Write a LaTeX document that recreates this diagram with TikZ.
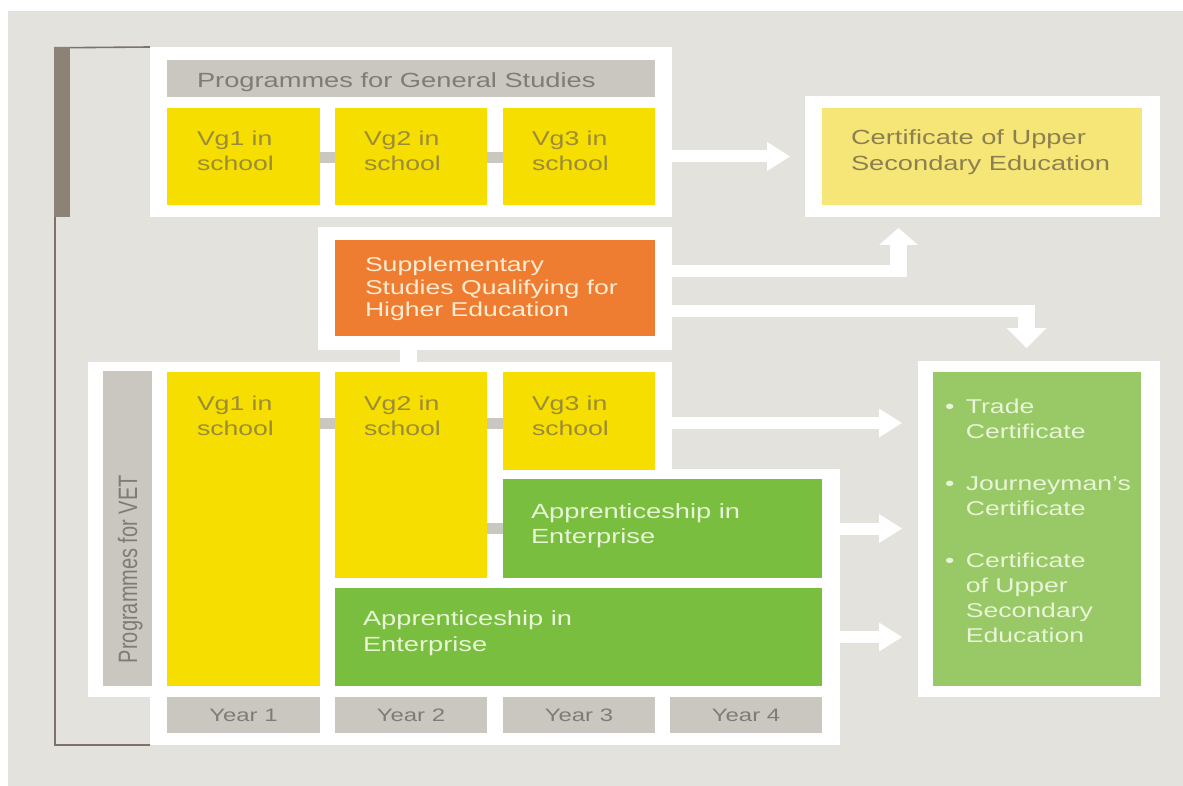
\documentclass[tikz,border=0pt]{standalone}
\usepackage{fontspec}
\setmainfont{Liberation Sans}[FakeStretch=1.33]
\newfontfamily\plainsans{Liberation Sans}
\usetikzlibrary{calc}
\definecolor{bg}{RGB}{228,226,221}
\definecolor{hdrgray}{RGB}{202,199,193}
\definecolor{hdrtext}{RGB}{128,123,118}
\definecolor{ylw}{RGB}{246,222,0}
\definecolor{ytext}{RGB}{155,140,55}
\definecolor{lylw}{RGB}{246,230,120}
\definecolor{ctext}{RGB}{140,128,80}
\definecolor{orng}{RGB}{238,125,50}
\definecolor{otext}{RGB}{253,235,210}
\definecolor{grn}{RGB}{122,190,64}
\definecolor{gtext}{RGB}{232,245,215}
\definecolor{grnb}{RGB}{152,201,102}
\definecolor{darkbar}{RGB}{141,130,120}
\definecolor{thinln}{RGB}{125,115,108}
\tikzset{
  blk/.style={rectangle, inner sep=0pt, outer sep=0pt, anchor=north west, draw=none},
  frm/.style={blk, fill=white},
  lbl/.style={anchor=base west, inner sep=0pt, outer sep=0pt},
  ftw/.style={font=\fontsize{20}{25}\selectfont},
  conn/.style={draw=hdrgray, line width=11pt},
  yearbox/.style={blk, fill=hdrgray, text=hdrtext, font=\fontsize{18}{22}\selectfont, minimum height=36pt},
}
\newcommand\toplines[1]{\begin{tabular}[t]{@{}l@{}}#1\end{tabular}}
\newcommand\hrarrow[2]{%
  \draw[white, line width=12pt] (#1) -- ($(#2)+(-23,0)$);
  \fill[white] (#2) -- ($(#2)+(-23,-14.5)$) -- ($(#2)+(-23,14.5)$) -- cycle;}
\begin{document}
\begin{tikzpicture}[x=1pt,y=-1pt]
\useasboundingbox (0,0) rectangle (1183,786);
\fill[white] (0,0) rectangle (1183,786);
\fill[bg] (8,11) rectangle (1183,786);

% white frames
\node[frm, minimum width=522pt, minimum height=170pt] (genframe) at (150,47) {};
\node[frm, minimum width=355pt, minimum height=121pt] (certframe) at (805,96) {};
\node[frm, minimum width=354pt, minimum height=123pt] (suppframe) at (318,227) {};
\node[frm, minimum width=584pt, minimum height=335pt] (vetframe) at (88,362) {};
\node[frm, minimum width=690pt, minimum height=276pt] (vetframeb) at (150,469) {};
\node[frm, minimum width=242pt, minimum height=336pt] (greenframe) at (918,361) {};

% bracket on the left
\draw[thinln, line width=1.6pt] (genframe.north west) -- (55,47.8) -- (55,745) -- (vetframeb.south west);
\fill[darkbar] (54,47) rectangle (70,217);

% link between supplementary and VET frames
\draw[white, line width=17pt] ($(suppframe.south west)+(90.5,0)$) -- ($(suppframe.south west)+(90.5,12)$);

% general studies
\node[blk, fill=hdrgray, minimum width=488pt, minimum height=37pt] (hdr) at (167,60) {};
\node[blk, fill=ylw, minimum width=153pt, minimum height=97pt] (g1) at (167,108) {};
\node[blk, fill=ylw, minimum width=152pt, minimum height=97pt] (g2) at (335,108) {};
\node[blk, fill=ylw, minimum width=152pt, minimum height=97pt] (g3) at (503,108) {};
\draw[conn] ($(g1.north east)+(0,50)$) -- ($(g2.north west)+(0,50)$);
\draw[conn] ($(g2.north east)+(0,50)$) -- ($(g3.north west)+(0,50)$);

% certificate
\node[blk, fill=lylw, minimum width=320pt, minimum height=97pt] (certbox) at (822,108) {};

% supplementary
\node[blk, fill=orng, minimum width=320pt, minimum height=96pt] (supp) at (335,240) {};

% VET
\node[blk, fill=hdrgray, minimum width=49pt, minimum height=315pt] (vetlbl) at (103,371) {};
\node[blk, fill=ylw, minimum width=153pt, minimum height=314pt] (v1) at (167,372) {};
\node[blk, fill=ylw, minimum width=152pt, minimum height=206pt] (v2) at (335,372) {};
\node[blk, fill=ylw, minimum width=152pt, minimum height=98pt] (v3) at (503,372) {};
\node[blk, fill=grn, minimum width=319pt, minimum height=99pt] (ap1) at (503,479) {};
\node[blk, fill=grn, minimum width=487pt, minimum height=98pt] (ap2) at (335,588) {};
\draw[conn] ($(v1.north east)+(0,51)$) -- ($(v2.north west)+(0,51)$);
\draw[conn] ($(v2.north east)+(0,51)$) -- ($(v3.north west)+(0,51)$);
\draw[conn] (ap1.west -| v2.east) -- (ap1.west);
\draw[conn] ($(ap2.north west)+(0,54)$ -| v1.east) -- ($(ap2.north west)+(0,54)$);

\node[yearbox, minimum width=153pt] (y1) at (167,697) {Year 1};
\node[yearbox, minimum width=152pt] (y2) at (335,697) {Year 2};
\node[yearbox, minimum width=152pt] (y3) at (503,697) {Year 3};
\node[yearbox, minimum width=152pt] (y4) at (670,697) {Year 4};

% outcome box
\node[blk, fill=grnb, minimum width=208pt, minimum height=314pt] (certg) at (933,372) {};

% arrows
\coordinate (tipx) at ($(greenframe.west)+(-16,0)$);
\coordinate (a0s) at (genframe.east |- certframe.west);
\coordinate (a0t) at ($(certframe.west)+(-15,0)$);
\hrarrow{a0s}{a0t}
\coordinate (a1s) at ($(vetframe.north east)+(0,61)$);
\coordinate (a1t) at (a1s -| tipx);
\hrarrow{a1s}{a1t}
\coordinate (a2s) at (ap1.east -| vetframeb.east);
\coordinate (a2t) at (a2s -| tipx);
\hrarrow{a2s}{a2t}
\coordinate (a3s) at (ap2.east -| vetframeb.east);
\coordinate (a3t) at (a3s -| tipx);
\hrarrow{a3s}{a3t}

% elbow arrows from supplementary studies
\coordinate (u0) at ($(suppframe.north east)+(0,44)$);
\coordinate (u1) at ($(certframe.south west)+(93.5,54)$);
\coordinate (ut) at ($(certframe.south west)+(93.5,11)$);
\draw[white, line width=12pt] (u0) -- ($(u1)+(8.5,0)$);
\draw[white, line width=17pt] ($(u1)+(0,6)$) -- ($(ut)+(0,17)$);
\fill[white] (ut) -- ($(ut)+(-19.5,17)$) -- ($(ut)+(19.5,17)$) -- cycle;

\coordinate (d0) at ($(suppframe.north east)+(0,84)$);
\coordinate (d1) at ($(greenframe.north west)+(108.5,-50)$);
\coordinate (dt) at ($(greenframe.north west)+(108.5,-13)$);
\draw[white, line width=12pt] (d0) -- ($(d1)+(8.5,0)$);
\draw[white, line width=17pt] ($(d1)+(0,-6)$) -- ($(dt)+(0,-20)$);
\fill[white] (dt) -- ($(dt)+(-20,-20)$) -- ($(dt)+(20,-20)$) -- cycle;

% texts
\node[lbl, text=hdrtext, font=\fontsize{20.5}{25}\selectfont] (hdrt) at ($(hdr.north west)+(30,28)$) {Programmes for General Studies};
\node[lbl, ftw, text=ytext] (g1t) at ($(g1.north west)+(30,38)$) {\toplines{Vg1 in\\school}};
\node[lbl, ftw, text=ytext] (g2t) at ($(g2.north west)+(29,38)$) {\toplines{Vg2 in\\school}};
\node[lbl, ftw, text=ytext] (g3t) at ($(g3.north west)+(29,38)$) {\toplines{Vg3 in\\school}};
\node[lbl, text=ctext, font=\fontsize{20.5}{26}\selectfont] (certt) at ($(certbox.north west)+(29,37)$) {\toplines{Certificate of Upper\\Secondary Education}};
\node[lbl, text=otext, font=\fontsize{20}{22.5}\selectfont] (suppt) at ($(supp.north west)+(30,32)$) {\toplines{Supplementary\\Studies Qualifying for\\Higher Education}};
\node[lbl, ftw, text=ytext] (v1t) at ($(v1.north west)+(30,38)$) {\toplines{Vg1 in\\school}};
\node[lbl, ftw, text=ytext] (v2t) at ($(v2.north west)+(29,38)$) {\toplines{Vg2 in\\school}};
\node[lbl, ftw, text=ytext] (v3t) at ($(v3.north west)+(29,38)$) {\toplines{Vg3 in\\school}};
\node[lbl, text=gtext, font=\fontsize{20.5}{25.5}\selectfont] (ap1t) at ($(ap1.north west)+(28,39)$) {\toplines{Apprenticeship in\\Enterprise}};
\node[lbl, text=gtext, font=\fontsize{20.5}{26}\selectfont] (ap2t) at ($(ap2.north west)+(28,37)$) {\toplines{Apprenticeship in\\Enterprise}};
\node[lbl, text=hdrtext, font=\plainsans\fontsize{20}{24}\selectfont, xscale=1.33, rotate=90] (vett) at ($(vetlbl.south west)+(34,-23)$) {Programmes for VET};
\node[lbl, text=gtext, font=\fontsize{20}{25}\selectfont] (certgt) at ($(certg.north west)+(12,41)$)
  {\begin{tabular}[t]{@{}l@{\hspace{11.5pt}}l@{}}
   \textbullet & Trade\\
               & Certificate\\[27pt]
   \textbullet & Journeyman's\\
               & Certificate\\[27pt]
   \textbullet & Certificate\\
               & of Upper\\
               & Secondary\\
               & Education
   \end{tabular}};
\end{tikzpicture}
\end{document}
